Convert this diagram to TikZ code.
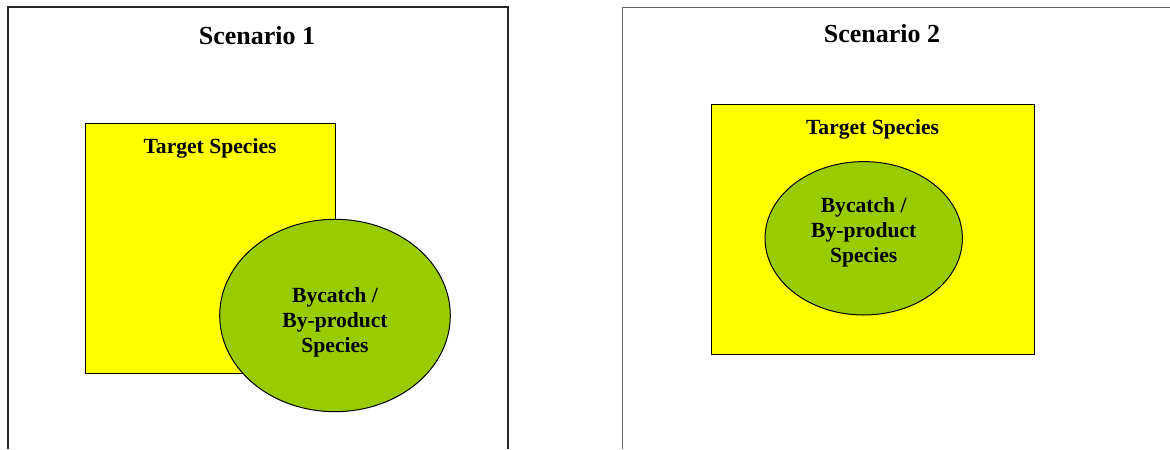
\documentclass[tikz,border=0pt]{standalone}
\usepackage{fontspec}
\setmainfont{Liberation Serif}
\usepackage{xcolor}
\usetikzlibrary{positioning,calc,shapes.geometric}

\definecolor{tgyellow}{HTML}{FFFF00}
\definecolor{bcgreen}{HTML}{99CC00}

\begin{document}
\begin{tikzpicture}[
  x=0.5pt, y=-0.5pt,
  title/.style={font=\bfseries\fontsize{13}{15}\selectfont, anchor=base},
  lbl/.style={font=\bfseries\fontsize{10.8}{12.6}\selectfont, align=center},
  targetbox/.style={rectangle,draw=black,line width=0.5pt,fill=tgyellow,
    inner sep=0pt},
  bycatch/.style={ellipse,draw=black,line width=0.5pt,fill=bcgreen,
    inner sep=0pt}
]
\useasboundingbox (0,0) rectangle (1170,449);

% scenario frames (open at the bottom)
\draw[line width=1pt,black!85] (8,449) -- (8,7.5) -- (508,7.5) -- (508,449);
\draw[line width=0.5pt,black!60] (622,449) -- (622,7.5) -- (1170,7.5);

\node[title] (scen1) at (257,45) {Scenario 1};
\node[title] (scen2) at (882,43) {Scenario 2};

% scenario 1: partial overlap
\node[targetbox,minimum width=125pt,minimum height=125pt] (target1) at (210,248) {};
\node[lbl,anchor=base] (tlabel1) at ($(target1.north)+(0,31)$) {Target Species};
\node[bycatch,minimum width=115.3pt,minimum height=96.2pt] (bycatch1) at (335,315.5) {};
\node[lbl] (blabel1) at ($(bycatch1.center)+(0,7)$) {Bycatch /\\By-product\\Species};

% scenario 2: bycatch inside target
\node[targetbox,minimum width=161.5pt,minimum height=125pt] (target2) at (872.5,229) {};
\node[lbl,anchor=base] (tlabel2) at ($(target2.north)+(0,31)$) {Target Species};
\node[bycatch,minimum width=98.7pt,minimum height=76.7pt] (bycatch2) at (863.7,238.3) {};
\node[lbl] (blabel2) at ($(bycatch2.center)+(0,-6)$) {Bycatch /\\By-product\\Species};
\end{tikzpicture}
\end{document}
